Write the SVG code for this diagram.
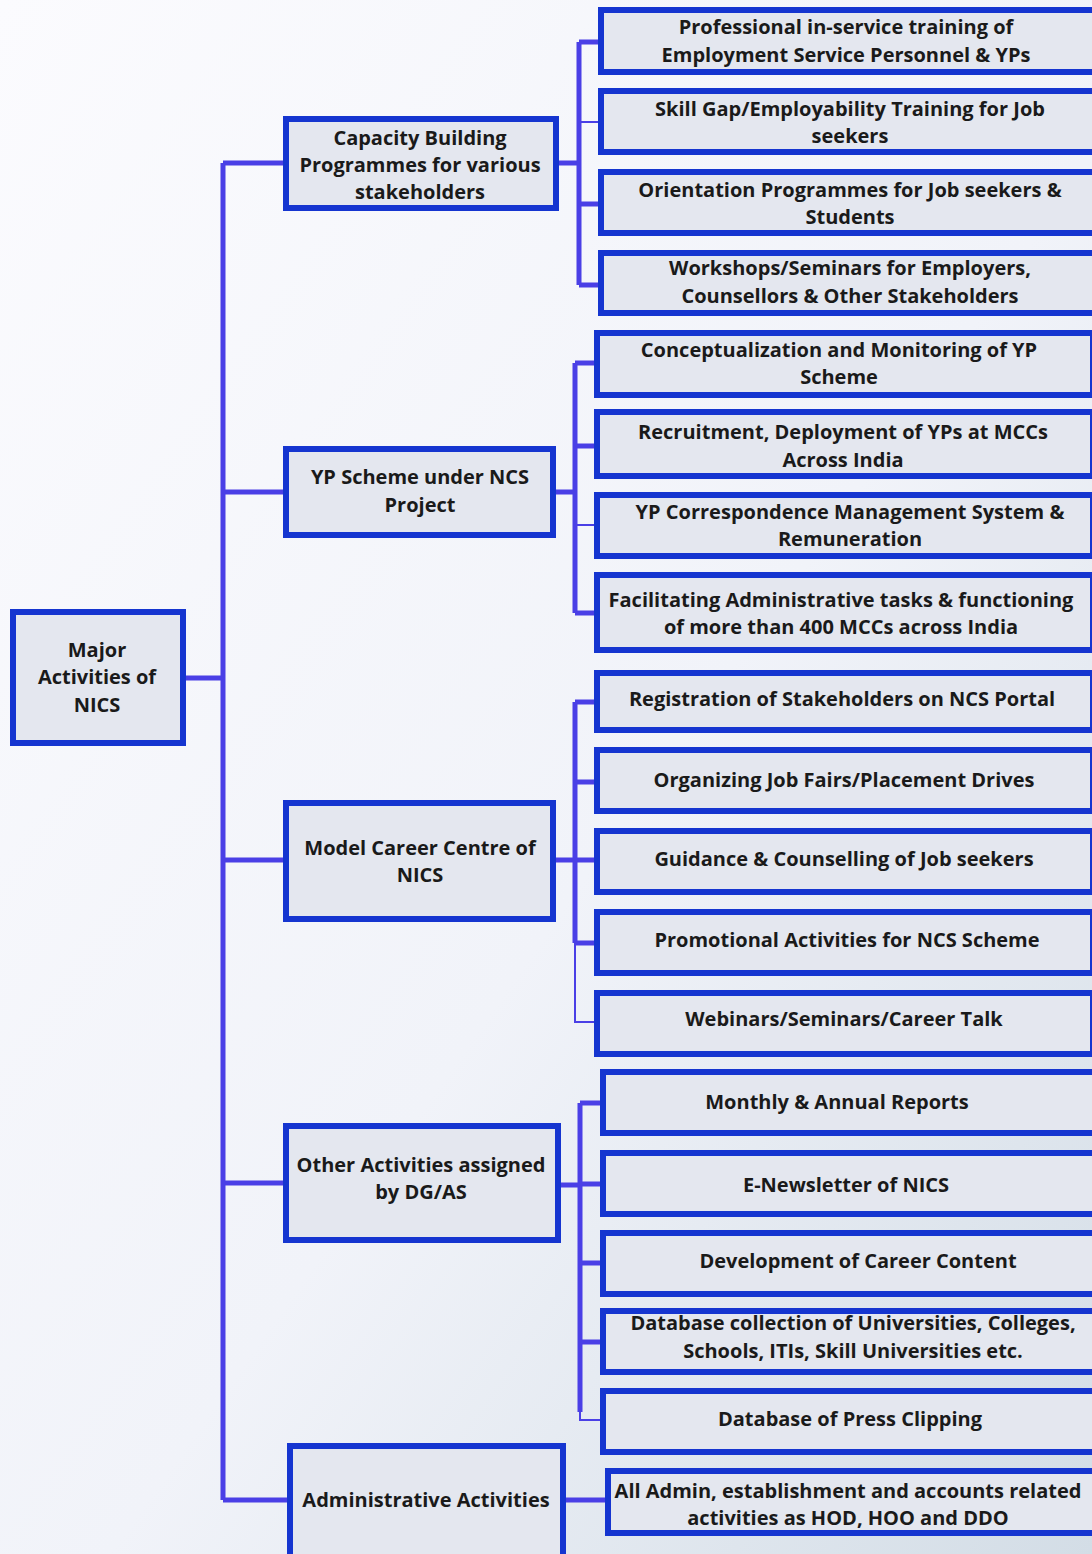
<svg xmlns="http://www.w3.org/2000/svg" width="1092" height="1554" viewBox="0 0 1092 1554">
<defs>
<linearGradient id="bg" x1="0" y1="0" x2="1" y2="1">
<stop offset="0" stop-color="#fbfbfe"/>
<stop offset="0.55" stop-color="#f1f3f9"/>
<stop offset="1" stop-color="#d3dde6"/>
</linearGradient>
<style>
.box{fill:#e4e7ef;stroke:#1535d0;stroke-width:6}
.t{font-family:"Open Sans","Liberation Sans",sans-serif;font-weight:700;font-size:20px;fill:#1a1a1a;text-anchor:middle}
.c{fill:none;stroke:#4a3fe6;stroke-width:5}
.c2{fill:none;stroke:#4a3fe6;stroke-width:2}
</style>
</defs>
<rect x="0" y="0" width="1092" height="1554" fill="url(#bg)"/>

<g id="connectors">
<path class="c" d="M185 678H223M223 163V1500M223 163H285M223 492H285M223 860H285M223 1183H285M223 1500H289"/>
<path class="c" d="M559 163H579M579 42V285M579 42H600M579 204H600M579 285H600"/>
<path class="c2" d="M579 122H600"/>
<path class="c" d="M556 492H575M575 363V613M575 363H596M575 446H596M575 613H596"/>
<path class="c2" d="M575 525H596"/>
<path class="c" d="M556 860H575M575 702V943M575 702H596M575 782H596M575 860H596M575 943H596"/>
<path class="c2" d="M575 943V1022H596"/>
<path class="c" d="M561 1185H580M580 1103V1412M580 1103H602M580 1184H602M580 1263H602M580 1342H602"/>
<path class="c2" d="M580 1410V1420H602"/>
<path class="c" d="M566 1500H607"/>
</g>

<g id="root"><rect class="box" x="13" y="612" width="170" height="131"/>
<text class="t" x="97" y="657">Major</text><text class="t" x="97" y="684">Activities of</text><text class="t" x="97" y="712">NICS</text></g>

<g id="capacity"><rect class="box" x="286" y="119" width="270" height="89"/>
<text class="t" x="420" y="145">Capacity Building</text><text class="t" x="420" y="172">Programmes for various</text><text class="t" x="420" y="199">stakeholders</text></g>

<g id="ypscheme"><rect class="box" x="286" y="449" width="267" height="86"/>
<text class="t" x="420" y="484">YP Scheme under NCS</text><text class="t" x="420" y="512">Project</text></g>

<g id="mcc"><rect class="box" x="286" y="803" width="267" height="116"/>
<text class="t" x="420" y="855">Model Career Centre of</text><text class="t" x="420" y="882">NICS</text></g>

<g id="other"><rect class="box" x="286" y="1126" width="272" height="114"/>
<text class="t" x="421" y="1172">Other Activities assigned</text><text class="t" x="421" y="1199">by DG/AS</text></g>

<g id="admin"><rect class="box" x="290" y="1446" width="273" height="120"/>
<text class="t" x="426" y="1507">Administrative Activities</text></g>

<g id="c1"><rect class="box" x="601" y="10" width="496" height="62"/>
<text class="t" x="846" y="34">Professional in-service training of</text><text class="t" x="846" y="62">Employment Service Personnel &amp; YPs</text></g>
<g id="c2"><rect class="box" x="601" y="91" width="496" height="61"/>
<text class="t" x="850" y="116">Skill Gap/Employability Training for Job</text><text class="t" x="850" y="143">seekers</text></g>
<g id="c3"><rect class="box" x="601" y="172" width="496" height="61"/>
<text class="t" x="850" y="197">Orientation Programmes for Job seekers &amp;</text><text class="t" x="850" y="224">Students</text></g>
<g id="c4"><rect class="box" x="601" y="253" width="496" height="60"/>
<text class="t" x="850" y="275">Workshops/Seminars for Employers,</text><text class="t" x="850" y="303">Counsellors &amp; Other Stakeholders</text></g>

<g id="c5"><rect class="box" x="597" y="333" width="496" height="62"/>
<text class="t" x="839" y="357">Conceptualization and Monitoring of YP</text><text class="t" x="839" y="384">Scheme</text></g>
<g id="c6"><rect class="box" x="597" y="412" width="496" height="64"/>
<text class="t" x="843" y="439">Recruitment, Deployment of YPs at MCCs</text><text class="t" x="843" y="467">Across India</text></g>
<g id="c7"><rect class="box" x="597" y="495" width="496" height="61"/>
<text class="t" x="850" y="519">YP Correspondence Management System &amp;</text><text class="t" x="850" y="546">Remuneration</text></g>
<g id="c8"><rect class="box" x="597" y="575" width="496" height="75"/>
<text class="t" x="841" y="607">Facilitating Administrative tasks &amp; functioning</text><text class="t" x="841" y="634">of more than 400 MCCs across India</text></g>

<g id="c9"><rect class="box" x="597" y="673" width="496" height="57"/>
<text class="t" x="842" y="706">Registration of Stakeholders on NCS Portal</text></g>
<g id="c10"><rect class="box" x="597" y="750" width="496" height="61"/>
<text class="t" x="844" y="787">Organizing Job Fairs/Placement Drives</text></g>
<g id="c11"><rect class="box" x="597" y="831" width="496" height="61"/>
<text class="t" x="844" y="866">Guidance &amp; Counselling of Job seekers</text></g>
<g id="c12"><rect class="box" x="597" y="912" width="496" height="61"/>
<text class="t" x="847" y="947">Promotional Activities for NCS Scheme</text></g>
<g id="c13"><rect class="box" x="597" y="993" width="496" height="61"/>
<text class="t" x="844" y="1026">Webinars/Seminars/Career Talk</text></g>

<g id="c14"><rect class="box" x="603" y="1072" width="496" height="61"/>
<text class="t" x="837" y="1109">Monthly &amp; Annual Reports</text></g>
<g id="c15"><rect class="box" x="603" y="1153" width="496" height="61"/>
<text class="t" x="846" y="1192">E-Newsletter of NICS</text></g>
<g id="c16"><rect class="box" x="603" y="1233" width="496" height="61"/>
<text class="t" x="858" y="1268">Development of Career Content</text></g>
<g id="c17"><rect class="box" x="603" y="1311" width="496" height="61"/>
<text class="t" x="853" y="1330">Database collection of Universities, Colleges,</text><text class="t" x="853" y="1358">Schools, ITIs, Skill Universities etc.</text></g>
<g id="c18"><rect class="box" x="603" y="1391" width="496" height="61"/>
<text class="t" x="850" y="1426">Database of Press Clipping</text></g>
<g id="c19"><rect class="box" x="608" y="1471" width="496" height="62"/>
<text class="t" x="848" y="1498">All Admin, establishment and accounts related</text><text class="t" x="848" y="1525">activities as HOD, HOO and DDO</text></g>
</svg>
